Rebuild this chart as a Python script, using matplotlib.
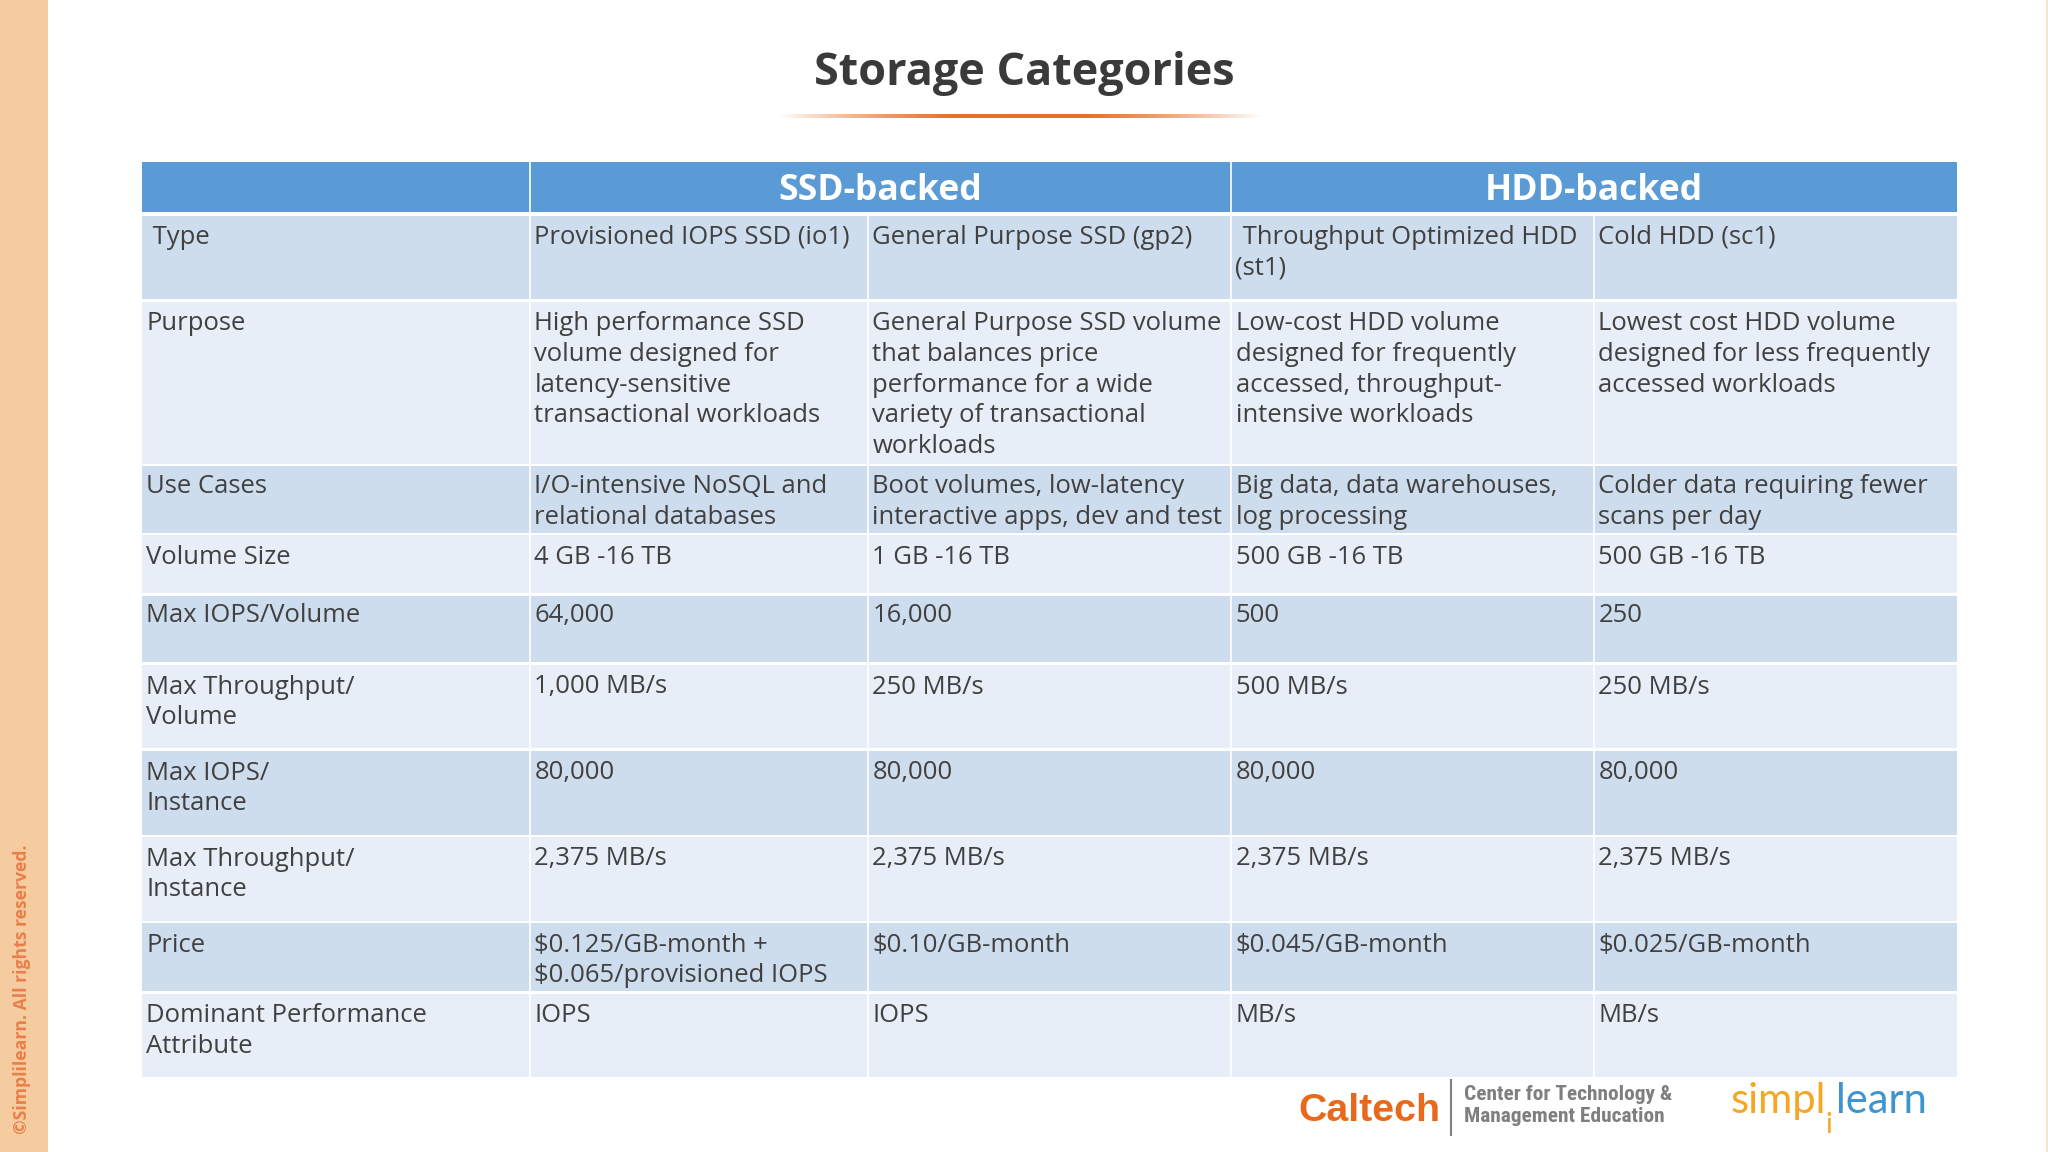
import numpy as np
import matplotlib.pyplot as plt
from matplotlib.patches import Rectangle

# Table content
title = 'Storage Categories'
groups = ['SSD-backed', 'HDD-backed']
row_labels = [' Type', 'Purpose', 'Use Cases', 'Volume Size', 'Max IOPS/Volume',
              'Max Throughput/\nVolume', 'Max IOPS/\nInstance', 'Max Throughput/\nInstance',
              'Price', 'Dominant Performance\nAttribute']
io1 = ['Provisioned IOPS SSD (io1)',
       'High performance SSD\nvolume designed for\nlatency-sensitive\ntransactional workloads',
       'I/O-intensive NoSQL and\nrelational databases',
       '4 GB -16 TB', '64,000', '1,000 MB/s', '80,000', '2,375 MB/s',
       '$0.125/GB-month +\n$0.065/provisioned IOPS', 'IOPS']
gp2 = ['General Purpose SSD (gp2)',
       'General Purpose SSD volume\nthat balances price\nperformance for a wide\nvariety of transactional\nworkloads',
       'Boot volumes, low-latency\ninteractive apps, dev and test',
       '1 GB -16 TB', '16,000', '250 MB/s', '80,000', '2,375 MB/s',
       '$0.10/GB-month', 'IOPS']
st1 = [' Throughput Optimized HDD\n(st1)',
       'Low-cost HDD volume\ndesigned for frequently\naccessed, throughput-\nintensive workloads',
       'Big data, data warehouses,\nlog processing',
       '500 GB -16 TB', '500', '500 MB/s', '80,000', '2,375 MB/s',
       '$0.045/GB-month', 'MB/s']
sc1 = ['Cold HDD (sc1)',
       'Lowest cost HDD volume\ndesigned for less frequently\naccessed workloads',
       'Colder data requiring fewer\nscans per day',
       '500 GB -16 TB', '250', '250 MB/s', '80,000', '2,375 MB/s',
       '$0.025/GB-month', 'MB/s']
columns = [row_labels, io1, gp2, st1, sc1]

# Layout, in pixels of the 2048x1152 picture
col_edges = [142, 530, 868, 1231, 1594, 1957]
row_tops = [216, 302, 466, 535, 596, 665, 751, 837, 923, 994]
row_bottoms = [299, 464, 533, 593, 662, 748, 835, 921, 991, 1077]
first_baselines = [244, 330, 493, 563.5, 622, 693.5, 779.5, 865.5, 951.5, 1022.5]
line_step = 30.8

BLUE = '#5B9BD5'
DARK_ROW = '#CEDDED'
LIGHT_ROW = '#E8EEF7'
TEXT = '#404040'
FONT = 'Open Sans'
NARROW = ['Roboto Condensed', 'Liberation Sans Narrow', 'Liberation Sans']

fig = plt.figure(figsize=(20.48, 11.52), dpi=100)
ax = fig.add_axes([0, 0, 1, 1])
ax.set_xlim(0, 2048)
ax.set_ylim(1152, 0)
ax.axis('off')


def box(x0, y0, x1, y1, color, **kw):
    ax.add_patch(Rectangle((x0, y0), x1 - x0, y1 - y0, facecolor=color, edgecolor='none', **kw))


# Left band and faint strip on the right
box(0, 0, 48, 1152, '#F5CBA0')
box(2046, 0, 2048, 1152, '#F9E3CE')
ax.text(22, 1134, '©Simplilearn. All rights reserved.', rotation=90, ha='center', va='bottom',
        fontsize=12.7, family='Open Sans', fontweight='bold', color='#E9804A')

# Title and its fading underline
ax.text(1024, 85, title, ha='center', va='baseline', fontsize=32.4, family=FONT,
        fontweight='bold', color='#3A3A3A')
fade = np.zeros((1, 500, 4))
fade[0, :, :3] = np.array([232, 112, 40]) / 255
fade[0, :, 3] = np.clip(1.15 - np.abs(np.linspace(-1, 1, 500)) ** 1.6 * 1.15, 0, 1)
ax.imshow(fade, extent=(778, 1262, 118, 114), aspect='auto', zorder=2, interpolation='bilinear')
ax.set_xlim(0, 2048)
ax.set_ylim(1152, 0)

# Header band
box(col_edges[0], 162, col_edges[5], 212, BLUE)
for x in (col_edges[1], col_edges[3]):
    ax.plot([x, x], [162, 212], color='white', lw=1.2, zorder=2)
for name, x0, x1 in zip(groups, (col_edges[1], col_edges[3]), (col_edges[3], col_edges[5])):
    ax.text((x0 + x1) / 2, 200, name, ha='center', va='baseline', fontsize=25.6, family=FONT,
            fontweight='bold', color='white', zorder=3)

# Body rows
for i, (top, bottom) in enumerate(zip(row_tops, row_bottoms)):
    box(col_edges[0], top, col_edges[5], bottom, DARK_ROW if i % 2 == 0 else LIGHT_ROW)
    for j, col in enumerate(columns):
        for k, line in enumerate(col[i].split('\n')):
            ax.text(col_edges[j] + 4.5, first_baselines[i] + k * line_step, line, ha='left',
                    va='baseline', fontsize=18.43, family=FONT, color=TEXT, zorder=3)
for x in col_edges[1:5]:
    ax.plot([x, x], [row_tops[0], row_bottoms[-1]], color='white', lw=1.2, zorder=2)

# Footer logos
ax.text(1298, 1121, 'Caltech', ha='left', va='baseline', fontsize=28.4, family='Liberation Sans',
        fontweight='bold', color='#E8691C')
ax.plot([1451, 1451], [1080, 1135], color='#808080', lw=1.5)
ax.text(1464, 1100, 'Center for Technology &', ha='left', va='baseline', fontsize=15.4,
        family=NARROW, fontweight='bold', color='#7F7F7F')
ax.text(1464, 1122, 'Management Education', ha='left', va='baseline', fontsize=15.4,
        family=NARROW, fontweight='bold', color='#7F7F7F')
ax.text(1731, 1113, 'simpl', ha='left', va='baseline', fontsize=30, family='Lato', color='#F5A623')
ax.text(1829, 1133, 'i', ha='center', va='baseline', fontsize=20, family='Lato', color='#F5A623')
ax.text(1836, 1113, 'learn', ha='left', va='baseline', fontsize=30, family='Lato', color='#3D94D0')

fig.savefig('out.png', dpi=100, facecolor='white')
